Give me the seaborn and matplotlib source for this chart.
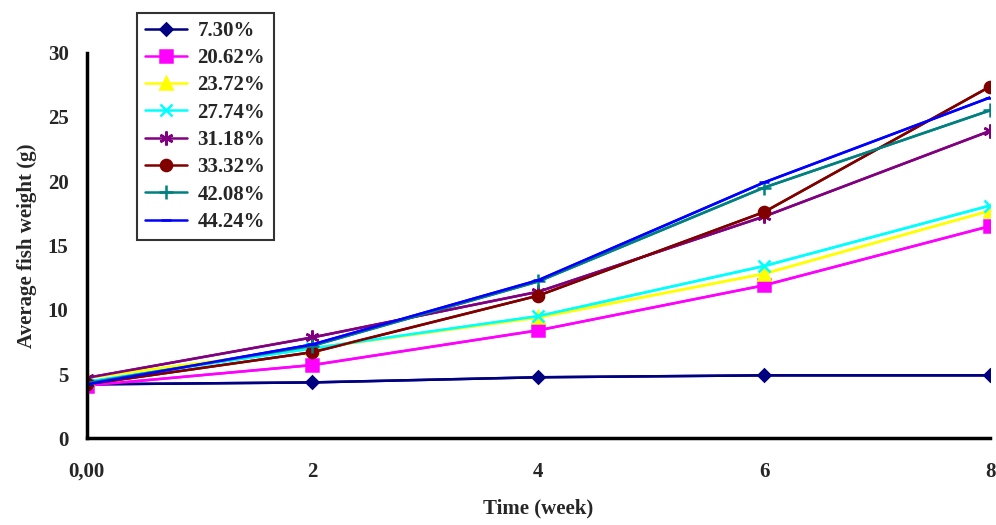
import matplotlib
matplotlib.use("Agg")
import matplotlib.pyplot as plt
import seaborn as sns
import pandas as pd

weeks = [0, 2, 4, 6, 8]
labels = ["7.30%", "20.62%", "23.72%", "27.74%", "31.18%", "33.32%", "42.08%", "44.24%"]
w_730 = [4.2, 4.35, 4.75, 4.9, 4.9]
w_2062 = [4.1, 5.7, 8.4, 11.9, 16.5]
w_2372 = [4.7, 7.0, 9.4, 12.8, 17.7]
w_2774 = [4.4, 7.0, 9.5, 13.4, 18.1]
w_3118 = [4.7, 7.85, 11.4, 17.25, 23.9]
w_3332 = [4.2, 6.7, 11.1, 17.6, 27.35]
w_4208 = [4.3, 7.2, 12.2, 19.5, 25.5]
w_4424 = [4.2, 7.3, 12.3, 19.9, 26.5]
series = [w_730, w_2062, w_2372, w_2774, w_3118, w_3332, w_4208, w_4424]
colors = ["#000080", "#FF00FF", "#FFFF00", "#00FFFF", "#800080", "#800000", "#008080", "#0000FF"]
markers = ["D", "s", "^", "x", (6, 2, 0), "o", "+", "_"]
sizes = [6, 8, 8, 9, 10, 8, 10, 7]

rows = [(l, x, v) for l, s in zip(labels, series) for x, v in zip(weeks, s)]
df = pd.DataFrame(rows, columns=["group", "week", "weight"])

sns.set_style("white")
plt.rcParams["font.family"] = ["Liberation Serif", "DejaVu Serif"]
plt.rcParams["font.weight"] = "bold"

fig = plt.figure(figsize=(9.96, 5.25), dpi=100)
ax = fig.add_axes([0.087, 0.165, 0.907, 0.735])
sns.lineplot(data=df, x="week", y="weight", hue="group", hue_order=labels,
             palette=colors, ax=ax, legend=False, linewidth=1.8)
for i, (l, s) in enumerate(zip(labels, series)):
    ax.plot(weeks, s, color=colors[i], marker=markers[i], markersize=sizes[i],
            markeredgewidth=1.8, linestyle="-", linewidth=1.8, label=l)

ax.set_xlim(0, 8)
ax.set_ylim(0, 30)
ax.set_xticks(weeks)
ax.set_xticklabels(["0,00", "2", "4", "6", "8"], fontsize=15, fontweight="bold")
ax.set_yticks(range(0, 31, 5))
ax.set_yticklabels([str(v) for v in range(0, 31, 5)], fontsize=15, fontweight="bold")
ax.tick_params(axis="both", direction="inout", length=10, width=2.5)
ax.tick_params(axis="x", pad=12)
ax.tick_params(axis="y", pad=8)
for sp in ["top", "right"]:
    ax.spines[sp].set_visible(False)
for sp in ["left", "bottom"]:
    ax.spines[sp].set_linewidth(2.5)
    ax.spines[sp].set_color("black")
ax.set_xlabel("Time (week)", fontsize=15, fontweight="bold", labelpad=12)
ax.set_ylabel("Average fish weight (g)", fontsize=15, fontweight="bold", labelpad=8)

leg = fig.legend(loc="upper left", bbox_to_anchor=(0.127, 0.996), frameon=True,
                 fancybox=False, edgecolor="black", handlelength=2.0, handletextpad=0.5,
                 labelspacing=0.35, borderpad=0.4, prop={"weight": "bold", "size": 15})
leg.get_frame().set_linewidth(1.5)

fig.savefig("out.png", dpi=100)
